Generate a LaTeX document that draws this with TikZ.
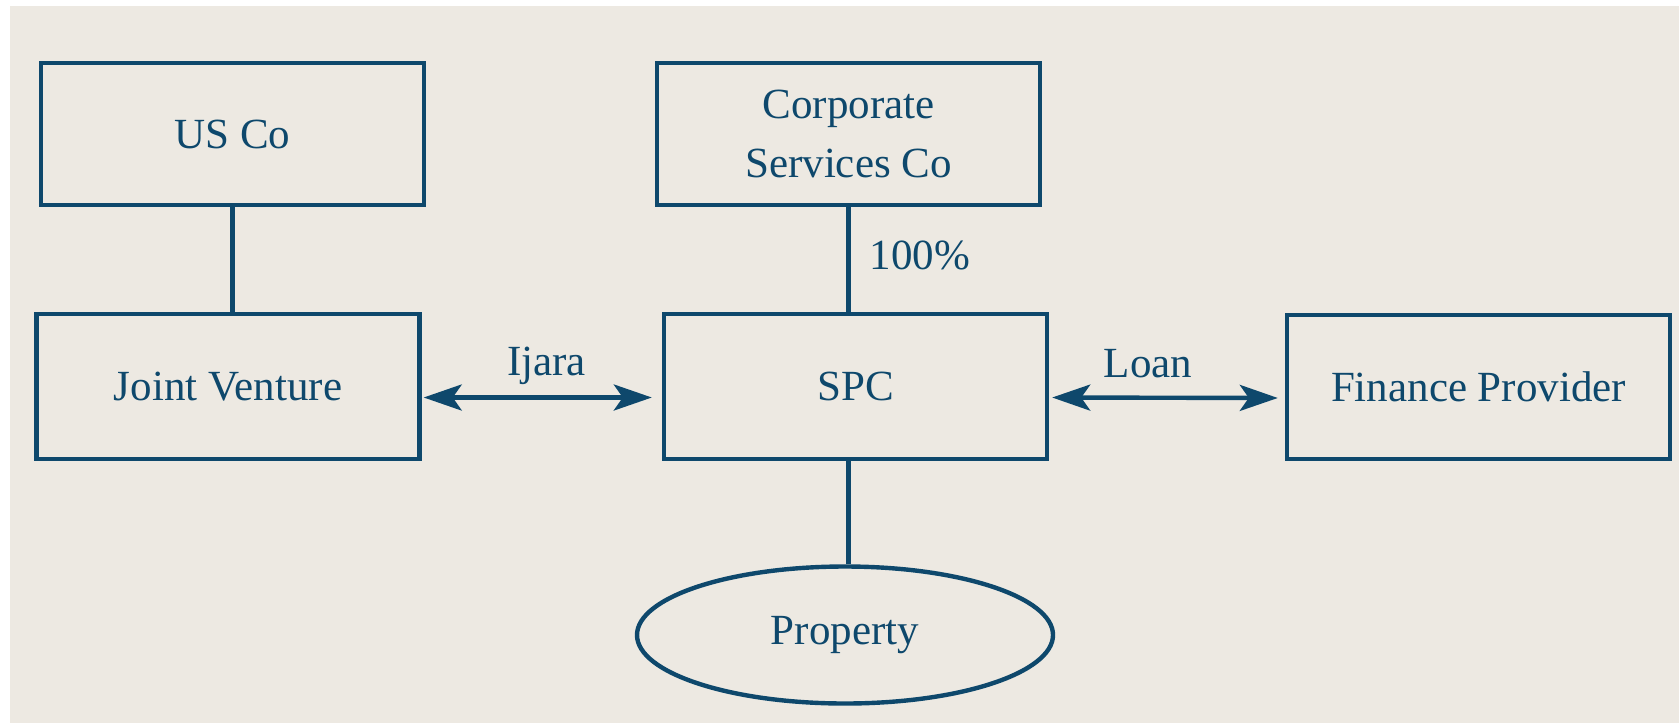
\documentclass[tikz,border=0pt]{standalone}
\usepackage{fontspec}
\setmainfont{Liberation Serif}
\usetikzlibrary{shapes.geometric,arrows.meta}
\definecolor{inkblue}{RGB}{14,72,108}
\definecolor{paper}{RGB}{237,233,226}
\begin{document}
\begin{tikzpicture}
[x = 0.5pt, y = -0.5pt, line width = 2.2pt, draw = inkblue,
 >={Stealth[length=19pt,width=13pt,inset=4.5pt]},
 box/.style = {draw = inkblue, rectangle, minimum width = 191.5pt, minimum height = 71pt, align = center, text = inkblue, font = \fontsize{21.5}{29.5}\selectfont},
 oval/.style = {draw = inkblue, ellipse, minimum width = 208pt, minimum height = 68.5pt, text = inkblue, font = \fontsize{21.5}{29.5}\selectfont},
 lbl/.style = {inner sep = 0pt, text = inkblue, font = \fontsize{21.5}{29.5}\selectfont}]
\useasboundingbox (0,0) rectangle (1679,723);
\fill[paper] (10,6) rectangle (1679,723);
\node (usco) at (232.5,134)[box] {US Co};
\node (csc) at (848.5,134)[box] {Corporate\\Services Co};
\node (jv) at (228,386.5)[box, minimum height = 72.5pt] {Joint Venture};
\node (spc) at (855.5,386.5)[box, minimum height = 72.5pt] {SPC};
\node (fp) at (1478.5,387)[box, minimum height = 72pt] {Finance Provider};
\node (prop) at (845,635)[oval] {Property};
\draw (usco.south) -- (usco.south |- jv.north);
\draw (csc.south) -- (csc.south |- spc.north) node[lbl, pos = 0.6, anchor = base west, xshift = 9.5pt] {100\%};
\draw (csc.south |- spc.south) -- (csc.south |- prop.north);
\draw [<->, shorten <= 1pt, shorten >= 5pt] ([yshift=-5.5pt]jv.east) -- ([yshift=-5.5pt]spc.west) node[lbl, pos = 0.52, anchor = base, yshift = 11pt] {Ijara};
\draw [<->, shorten <= 1.5pt, shorten >= 3.5pt] ([yshift=-5.5pt]spc.east) -- ([yshift=-5.5pt]fp.west) node[lbl, pos = 0.42, anchor = base, yshift = 10pt] {Loan};
\end{tikzpicture}
\end{document}
